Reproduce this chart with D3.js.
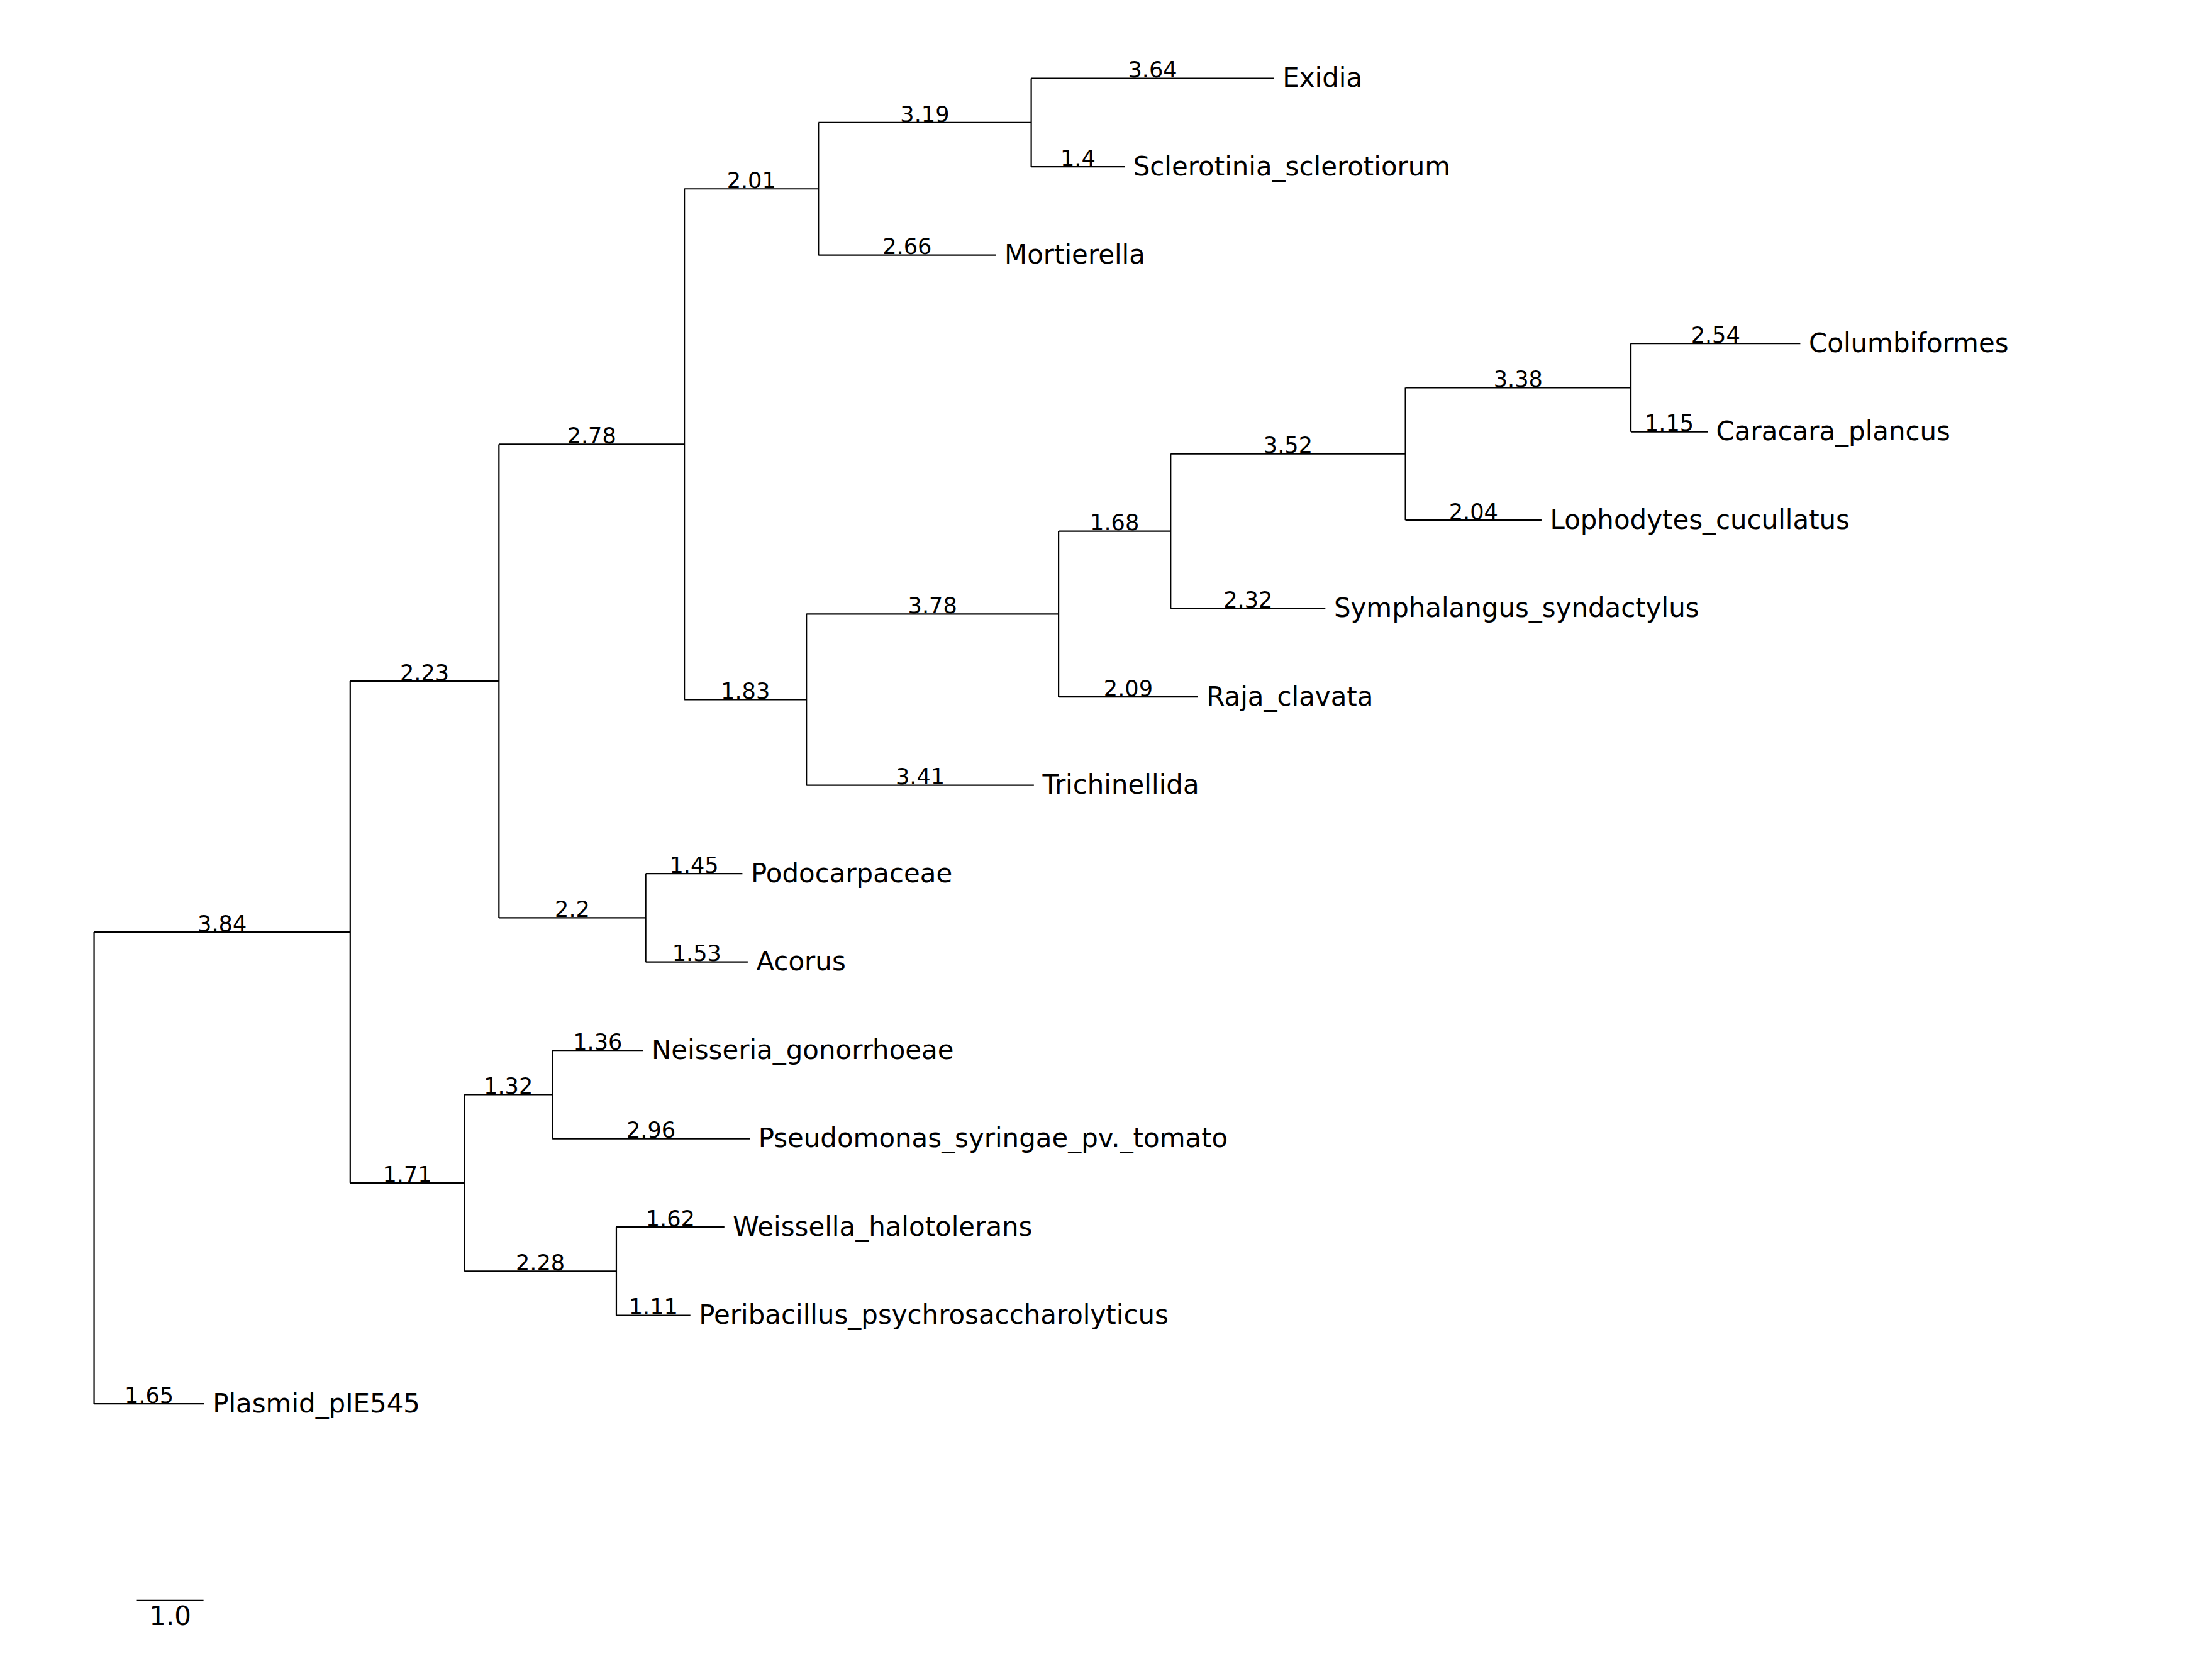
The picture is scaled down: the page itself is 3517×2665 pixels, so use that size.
<!DOCTYPE html>
<html><head><meta charset="utf-8">
<script src="https://cdn.jsdelivr.net/npm/d3@7"></script>
<style>body{margin:0;background:#fff}</style></head>
<body><svg id="c" width="3517" height="2665"></svg>
<script>
const nodeNames = ["root","A","B","C","D","E","Exidia","Sclerotinia_sclerotiorum","Mortierella","F","G","H","I","J","Columbiformes","Caracara_plancus","Lophodytes_cucullatus","Symphalangus_syndactylus","Raja_clavata","Trichinellida","K","Podocarpaceae","Acorus","L","M","Neisseria_gonorrhoeae","Pseudomonas_syringae_pv._tomato","N","Weissella_halotolerans","Peribacillus_psychrosaccharolyticus","Plasmid_pIE545"];
const nodeParents = [null,"root","A","B","C","D","E","E","D","C","F","G","H","I","J","J","I","H","G","F","B","K","K","A","L","M","M","L","N","N","root"];
const branchLengths = [0,3.84,2.23,2.78,2.01,3.19,3.64,1.4,2.66,1.83,3.78,1.68,3.52,3.38,2.54,1.15,2.04,2.32,2.09,3.41,2.2,1.45,1.53,1.71,1.32,1.36,2.96,2.28,1.62,1.11,1.65];
const leafInternalPrefix = ["root","A","B","C","D","E","F","G","H","I","J","K","L","M","N"];

const s = 3517/1552;
const rows = nodeNames.map((n,i)=>({id:n,parentId:nodeParents[i],len:branchLengths[i]}));
const root = d3.stratify()(rows);
root.eachBefore(d=>{d.depthLen = d.parent ? d.parent.depthLen + d.data.len : 0;});
const leaves = root.leaves();
const x = d3.scaleLinear().domain([0,1]).range([66*s,(66+46.8)*s]);
const y = d3.scaleLinear().domain([0,1]).range([55*s,117*s]);
leaves.forEach((l,i)=>l.yv=y(i));
root.eachAfter(d=>{ if(d.children) d.yv=(d.children[0].yv+d.children[d.children.length-1].yv)/2; });

const svg = d3.select("#c");
const g = svg.append("g").attr("stroke","#000").attr("stroke-width",2.2).attr("fill","none");
const font = "DejaVu Sans";
root.descendants().forEach(d=>{
  if(d.parent){
    g.append("line").attr("x1",x(d.parent.depthLen)).attr("x2",x(d.depthLen)).attr("y1",d.yv).attr("y2",d.yv);
    svg.append("text").attr("x",(x(d.parent.depthLen)+x(d.depthLen))/2).attr("y",d.yv-5*s)
      .attr("text-anchor","middle").attr("dominant-baseline","middle")
      .attr("font-family",font).attr("font-size",15.5*s).text(d.data.len);
  }
  if(d.children){
    const ys=d.children.map(c=>c.yv);
    g.append("line").attr("x1",x(d.depthLen)).attr("x2",x(d.depthLen)).attr("y1",d3.min(ys)).attr("y2",d3.max(ys));
  } else {
    svg.append("text").attr("x",x(d.depthLen)+6*s).attr("y",d.yv+1*s)
      .attr("dominant-baseline","middle").attr("font-family",font).attr("font-size",18.5*s).text(d.id);
  }
});
// scale bar
g.append("line").attr("x1",x(0)+30*s).attr("x2",x(1)+30*s).attr("y1",1123*s).attr("y2",1123*s);
svg.append("text").attr("x",(x(0)+x(1))/2+30*s).attr("y",1135*s).attr("text-anchor","middle")
  .attr("dominant-baseline","middle").attr("font-family",font).attr("font-size",18.5*s).text("1.0");
</script></body></html>
